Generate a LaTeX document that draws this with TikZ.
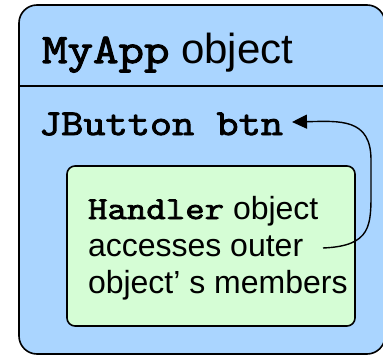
\documentclass[tikz,border=0pt]{standalone}
\usepackage{fontspec}
\setmainfont{Liberation Sans}
\newfontfamily\codefont[FakeBold=2.5, FakeStretch=1.18]{Latin Modern Mono}
\usetikzlibrary{arrows.meta}
\definecolor{outerblue}{RGB}{170,213,255}
\definecolor{innergreen}{RGB}{213,253,213}
\newcommand{\code}[1]{{\codefont #1}}
\tikzset{
  txt/.style={anchor=base west, inner sep=0pt, outer sep=0pt},
  boxline/.style={draw=black, line width=1.6pt},
  link/.style={draw=black, line width=1.4pt, -{Triangle[length=15pt,width=14pt]}}
}
\begin{document}
\begin{tikzpicture}[x=1pt,y=-1pt]
\useasboundingbox (0,0) rectangle (383,356);
% outer object
\path[boxline, fill=outerblue, rounded corners=18pt] (19,5) rectangle (385,354);
\draw[line width=1.4pt] (19,86) -- (385,86);
\node[txt, font=\fontsize{42}{44}\selectfont] (title) at (42,63) {\code{MyApp} object};
\node[txt, font=\fontsize{36.5}{40}\selectfont] (field) at (39,135) {\code{JButton btn}};
% inner object
\path[boxline, fill=innergreen, rounded corners=8pt] (67,166) rectangle (355,326);
\node[txt, font=\fontsize{32}{37}\selectfont] (h1) at (88,219) {\code{Handler} object};
\node[txt, font=\fontsize{32}{37}\selectfont] (h2) at (88,256) {accesses outer};
\node[txt, font=\fontsize{32}{37}\selectfont] (h3) at (88,293) {object’ s members};
\coordinate (astart) at (323,248);
\coordinate (aend) at (292,122);
\draw[link] (astart) .. controls (372,246) and (371,225) .. (371,190)
  -- (371,160) .. controls (371,118) and (340,121) .. (aend);
\end{tikzpicture}
\end{document}
